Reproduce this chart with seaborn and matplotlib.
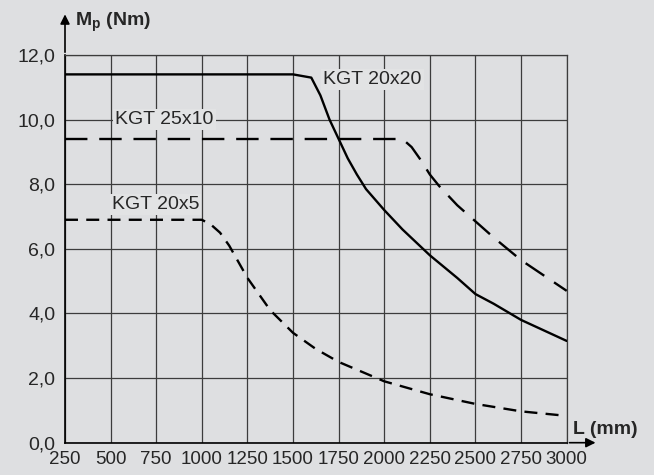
# Torque vs. length curves for ball screw drives (KGT)

import numpy as np
import pandas as pd
import matplotlib
matplotlib.use('Agg')
import matplotlib.pyplot as plt
import seaborn as sns

# Data
L_20x20 = [250, 1500, 1600, 1650, 1700, 1750, 1800, 1850, 1900, 2000, 2100, 2250, 2400, 2500, 2600, 2750, 3000]
M_20x20 = [11.4, 11.4, 11.3, 10.75, 10.0, 9.4, 8.8, 8.3, 7.85, 7.2, 6.6, 5.8, 5.1, 4.6, 4.3, 3.8, 3.15]

L_25x10 = [250, 2100, 2150, 2200, 2250, 2300, 2400, 2500, 2600, 2750, 3000]
M_25x10 = [9.4, 9.4, 9.15, 8.75, 8.3, 7.95, 7.35, 6.85, 6.35, 5.65, 4.7]

L_20x5 = [250, 1000, 1050, 1100, 1150, 1250, 1375, 1500, 1625, 1750, 2000, 2250, 2500, 2750, 3000]
M_20x5 = [6.9, 6.9, 6.75, 6.5, 6.1, 5.1, 4.1, 3.4, 2.9, 2.5, 1.9, 1.5, 1.2, 0.97, 0.83]

x_ticks = list(range(250, 3001, 250))
y_ticks = [0, 2, 4, 6, 8, 10, 12]
y_tick_labels = ['0,0', '2,0', '4,0', '6,0', '8,0', '10,0', '12,0']

bg = '#dedfe1'
grid_c = '#3c3c3c'

sns.set_style('white')
plt.rcParams['font.family'] = ['Liberation Sans', 'DejaVu Sans']
plt.rcParams['mathtext.fontset'] = 'custom'
plt.rcParams['mathtext.rm'] = 'Liberation Sans'
plt.rcParams['mathtext.bf'] = 'Liberation Sans:bold'

fig = plt.figure(figsize=(6.54, 4.75), dpi=100, facecolor=bg)
ax = fig.add_axes([65 / 654, 1 - 442.7 / 475, (566.7 - 65) / 654, (442.7 - 55) / 475])
ax.set_facecolor(bg)

# grid
for xv in x_ticks:
    ax.axvline(xv, color=grid_c, lw=0.9, zorder=1)
for yv in y_ticks:
    ax.axhline(yv, color=grid_c, lw=0.9, zorder=1)

df1 = pd.DataFrame({'L': L_20x20, 'M': M_20x20})
df2 = pd.DataFrame({'L': L_25x10, 'M': M_25x10})
df3 = pd.DataFrame({'L': L_20x5, 'M': M_20x5})

sns.lineplot(data=df1, x='L', y='M', ax=ax, color='black', lw=1.7, zorder=3)
l2 = sns.lineplot(data=df2, x='L', y='M', ax=ax, color='black', lw=1.7, zorder=3).lines[-1]
l2.set_dashes((9.5, 5))
l3 = sns.lineplot(data=df3, x='L', y='M', ax=ax, color='black', lw=1.7, zorder=3).lines[-1]
l3.set_dashes((5.5, 3.5))

ax.set_xlim(250, 3000)
ax.set_ylim(0, 12)
ax.set_xticks(x_ticks)
ax.set_xticklabels([str(v) for v in x_ticks], fontsize=13.5)
ax.set_yticks(y_ticks)
ax.set_yticklabels(y_tick_labels, fontsize=14)
ax.tick_params(axis='both', direction='out', length=5, width=0.9, color=grid_c, pad=2)
ax.tick_params(axis='x', pad=1)
ax.set_xlabel('')
ax.set_ylabel('')

for s in ['top', 'right']:
    ax.spines[s].set_color(grid_c)
    ax.spines[s].set_linewidth(0.9)
for s in ['left', 'bottom']:
    ax.spines[s].set_color('black')
    ax.spines[s].set_linewidth(1.2)

# axis arrows
ax.annotate('', xy=(0, 1.112), xytext=(0, 1.0), xycoords='axes fraction',
            arrowprops=dict(arrowstyle='-|>', color='black', lw=1.2, mutation_scale=14),
            annotation_clip=False)
ax.annotate('', xy=(1.063, 0), xytext=(1.0, 0), xycoords='axes fraction',
            arrowprops=dict(arrowstyle='-|>', color='black', lw=1.2, mutation_scale=14),
            annotation_clip=False)

fig.text(75 / 654, 1 - 22 / 475, r'$\mathbf{M}_{\mathbf{p}}$ (Nm)', fontsize=14,
         fontweight='bold', va='center', ha='left')
fig.text(573 / 654, 1 - 430 / 475, 'L (mm)', fontsize=14, fontweight='bold',
         va='center', ha='left')

box = dict(facecolor='#e2e3e4', edgecolor='none', pad=1.5)
ax.text(1666, 11.25, 'KGT 20x20', fontsize=14, va='center', ha='left', bbox=box, zorder=4)
ax.text(524, 10.0, 'KGT 25x10', fontsize=14, va='center', ha='left', bbox=box, zorder=4)
ax.text(506, 7.38, 'KGT 20x5', fontsize=14, va='center', ha='left', bbox=box, zorder=4)

fig.savefig('out.png', dpi=100, facecolor=bg)
